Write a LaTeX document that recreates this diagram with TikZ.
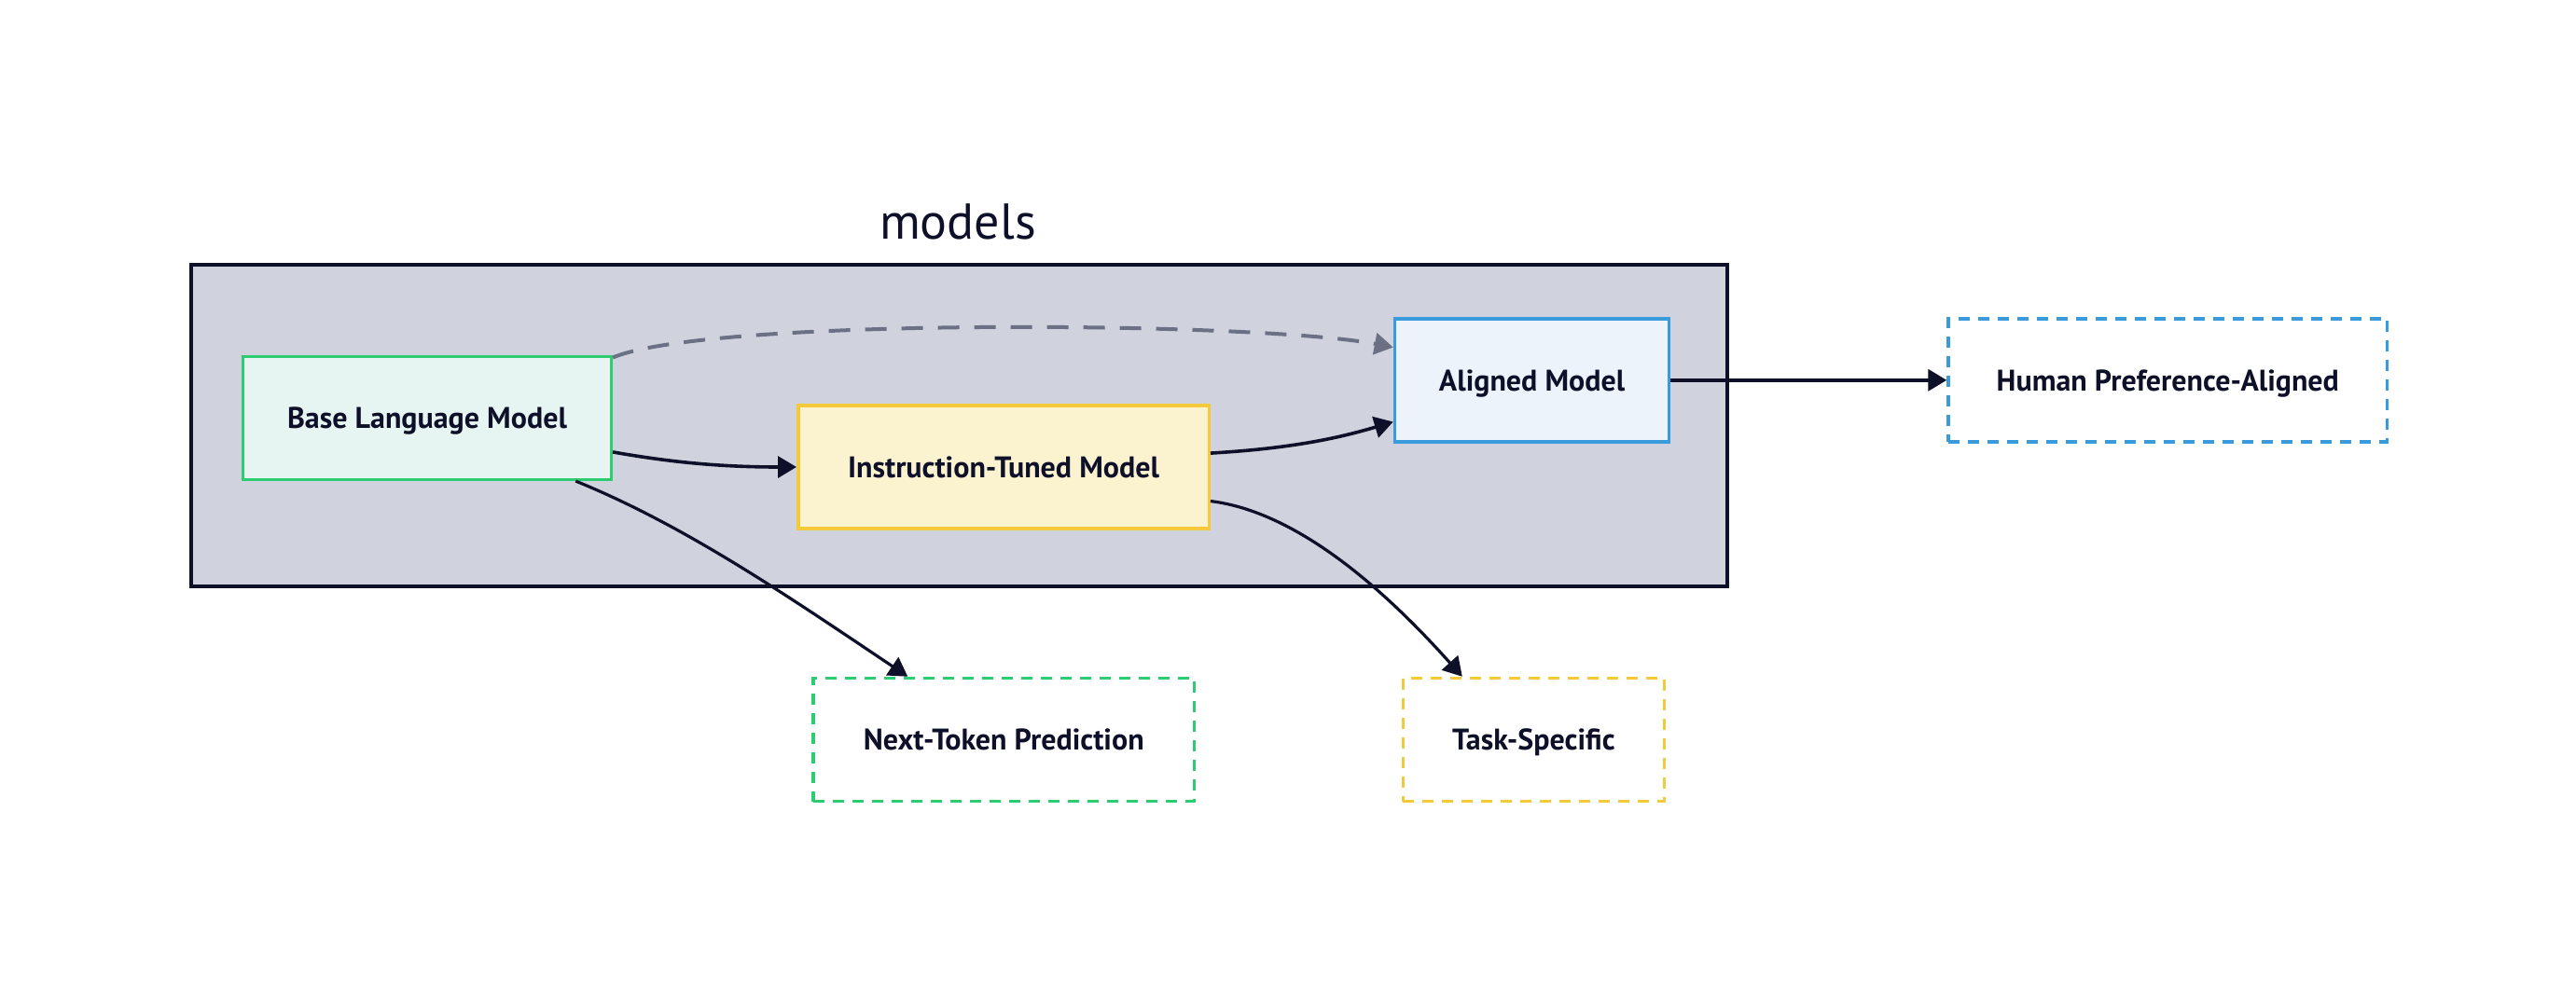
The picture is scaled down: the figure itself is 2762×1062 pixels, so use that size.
\documentclass[tikz,border=0pt]{standalone}
\usepackage{fontspec}
\setmainfont{PT Sans}
\usetikzlibrary{arrows.meta,calc}
\definecolor{ink}{HTML}{0D1028}
\definecolor{contfill}{HTML}{D0D2DE}
\definecolor{grn}{HTML}{2ECC71}
\definecolor{grnfill}{HTML}{E6F5F1}
\definecolor{ylw}{HTML}{F4CA3A}
\definecolor{ylwfill}{HTML}{FBF3D0}
\definecolor{blu}{HTML}{3A9BDC}
\definecolor{blufill}{HTML}{ECF3FB}
\definecolor{gry}{HTML}{6B7085}
\tikzset{
  box/.style={draw, line width=3.5pt, minimum height=132pt, inner sep=0pt, text=ink,
    text height=22.4pt, text depth=0pt,
    font=\fontsize{32}{38}\selectfont\bfseries, anchor=center},
  outbox/.style={box, dash pattern=on 12pt off 9pt},
  conn/.style={draw=ink, line width=3.6pt, -{Triangle[length=20pt,width=23pt]}},
  dconn/.style={draw=gry, line width=4pt, dash pattern=on 23pt off 16pt, -{Triangle[length=20pt,width=23pt]}},
}
\begin{document}
\begin{tikzpicture}[x=1pt,y=-1pt]
\useasboundingbox (0,0) rectangle (2762,1062);
\node[draw=ink, fill=contfill, line width=4pt, minimum width=1647pt, minimum height=345pt, inner sep=0pt, anchor=north west] (cont) at (202.5,281.8) {};
\node[text=ink, font=\fontsize{54}{60}\selectfont, anchor=center] (title) at (1027,238) {models};
\node[box, draw=grn, fill=grnfill, minimum width=394.6pt] (blm) at (458,448.3) {Base Language Model};
\node[box, draw=ylw, fill=ylwfill, minimum width=440.5pt] (itm) at (1076,501) {Instruction-Tuned Model};
\node[box, draw=blu, fill=blufill, minimum width=294.2pt] (am) at (1642.6,407.8) {Aligned Model};
\node[outbox, draw=blu, minimum width=470.5pt] (hpa) at (2324.3,407.8) {Human Preference-Aligned};
\node[outbox, draw=grn, minimum width=408.6pt] (ntp) at (1076.3,793.5) {Next-Token Prediction};
\node[outbox, draw=ylw, minimum width=280.2pt] (ts) at (1644.4,793.5) {Task-Specific};
\coordinate (blmA) at ($(blm.north east)!0.77!(blm.south east)$);
\coordinate (blmB) at ($(blm.south west)!0.9!(blm.south east)$);
\coordinate (itmA) at ($(itm.north east)!0.39!(itm.south east)$);
\coordinate (itmB) at ($(itm.north east)!0.77!(itm.south east)$);
\coordinate (amA) at ($(am.north west)!0.24!(am.south west)$);
\coordinate (amB) at ($(am.north west)!0.83!(am.south west)$);
\coordinate (ntpA) at ($(ntp.north west)!0.25!(ntp.north east)$);
\coordinate (tsA) at ($(ts.north west)!0.23!(ts.north east)$);
\coordinate (blmC) at ($(blm.north east)+(0,3)$);
\draw[dconn] (blmC) .. controls (760,340) and (1350,345) .. (amA);
\draw[conn] (blmA) .. controls (725,497) and (780,501) .. (itm.west);
\draw[conn] (itmA) .. controls (1385,481) and (1435,470) .. (amB);
\draw[conn] (am.east) -- (hpa.west);
\draw[conn, line width=3.2pt] (blmB) .. controls (735,564) and (844,639) .. (ntpA);
\draw[conn, line width=3.2pt] (itmB) .. controls (1400,550) and (1500,650) .. (tsA);
\end{tikzpicture}
\end{document}
